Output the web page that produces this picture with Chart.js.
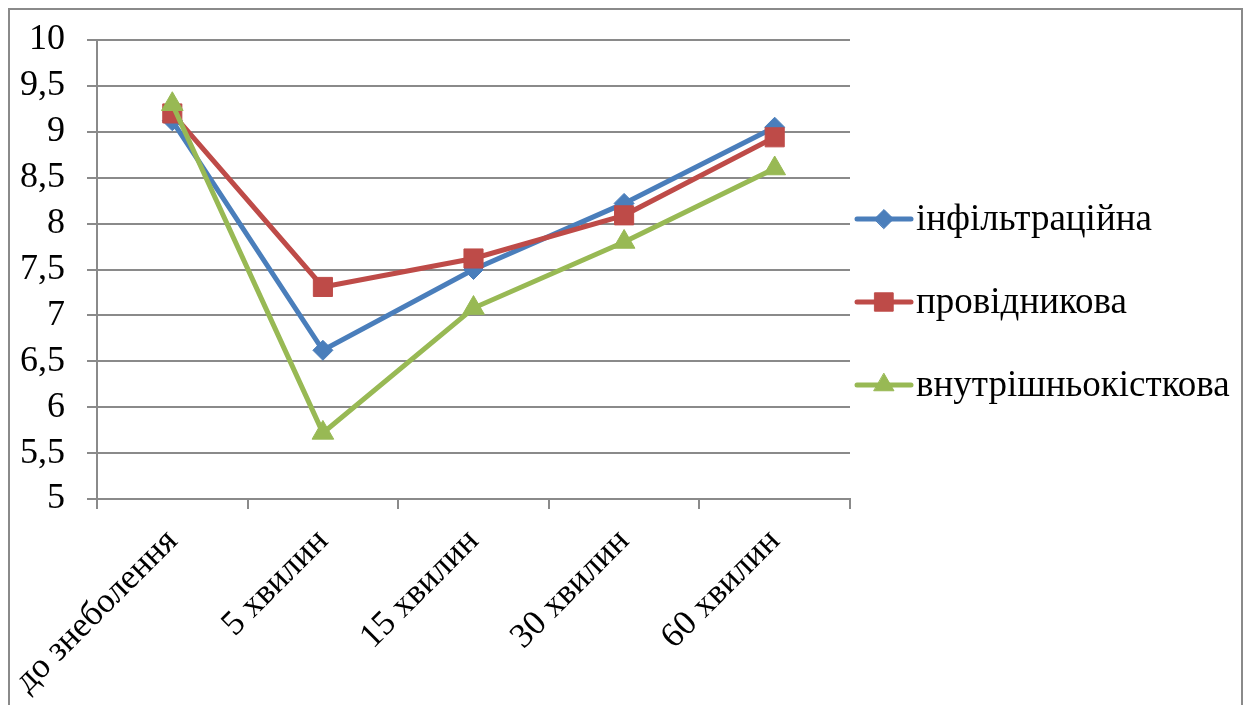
<!DOCTYPE html>
<html>
<head>
<meta charset="utf-8">
<script src="https://cdn.jsdelivr.net/npm/chart.js@4.4.0/dist/chart.umd.min.js"></script>
<style>
  html, body { margin: 0; padding: 0; background: #fff; }
  #wrap { width: 1251px; height: 705px; }
</style>
</head>
<body>
<div id="wrap"><canvas id="chart" width="1251" height="705"></canvas></div>
<script>
// categories and series values
var categories = ['до знеболення', '5 хвилин', '15 хвилин', '30 хвилин', '60 хвилин'];
var infiltration = [9.12, 6.62, 7.5, 8.22, 9.05];
var conduction = [9.2, 7.31, 7.62, 8.09, 8.94];
var intraosseous = [9.3, 5.72, 7.08, 7.8, 8.6];
var seriesNames = ['інфільтраційна', 'провідникова', 'внутрішньокісткова'];
var yTicks = [5, 5.5, 6, 6.5, 7, 7.5, 8, 8.5, 9, 9.5, 10];

var colors = ['#4a7ebb', '#be4b48', '#98b954'];
var markers = ['rectRot', 'rect', 'triangle'];
var markerSize = [10, 13.5, 12.5];
var legendMarkerSize = [9.5, 13, 11.5];
var font = '"Liberation Serif", "Times New Roman", serif';
var gridColor = '#8a8a8a';

function makeSet(i, values) {
  return {
    label: seriesNames[i],
    data: values,
    borderColor: colors[i],
    backgroundColor: colors[i],
    borderWidth: 5,
    pointStyle: markers[i],
    pointRadius: markerSize[i],
    pointBorderWidth: 1,
    pointHoverRadius: markerSize[i],
    tension: 0,
    order: 2 - i
  };
}

// outer frame of the chart
var framePlugin = {
  id: 'frame',
  beforeDraw: function(chart) {
    var ctx = chart.ctx;
    ctx.save();
    ctx.fillStyle = '#fff';
    ctx.fillRect(0, 0, chart.width, chart.height);
    ctx.strokeStyle = gridColor;
    ctx.lineWidth = 2;
    ctx.strokeRect(9, 9, 1233, 720);
    ctx.restore();
  }
};

// legend on the right: line sample with marker, then the series name
var sideLegend = {
  id: 'sideLegend',
  afterDraw: function(chart) {
    var ctx = chart.ctx;
    var x0 = 857, x1 = 911, rows = [219, 302, 385];
    ctx.save();
    chart.data.datasets.forEach(function(ds, i) {
      var y = rows[i];
      ctx.strokeStyle = ds.borderColor;
      ctx.lineWidth = 5;
      ctx.lineCap = 'round';
      ctx.beginPath();
      ctx.moveTo(x0, y);
      ctx.lineTo(x1, y);
      ctx.stroke();
      ctx.fillStyle = ds.backgroundColor;
      ctx.strokeStyle = ds.borderColor;
      ctx.lineWidth = 1;
      Chart.helpers.drawPoint(ctx, { pointStyle: ds.pointStyle, rotation: 0, borderWidth: 1, radius: legendMarkerSize[i] }, (x0 + x1) / 2, y);
      ctx.fillStyle = '#000';
      ctx.font = '37px ' + font;
      ctx.textBaseline = 'middle';
      ctx.textAlign = 'left';
      ctx.fillText(ds.label, 916, y + 1);
    });
    ctx.restore();
  }
};

new Chart(document.getElementById('chart'), {
  type: 'line',
  data: {
    labels: categories,
    datasets: [makeSet(0, infiltration), makeSet(1, conduction), makeSet(2, intraosseous)]
  },
  plugins: [framePlugin, sideLegend],
  options: {
    responsive: false,
    animation: false,
    events: [],
    layout: { padding: { top: 39, right: 401, left: 0, bottom: 0 } },
    plugins: { legend: { display: false }, tooltip: { enabled: false } },
    scales: {
      x: {
        offset: true,
        grid: { offset: true, drawOnChartArea: false, drawTicks: true, tickLength: 10, color: gridColor, lineWidth: 2 },
        border: { color: gridColor, width: 2 },
        ticks: {
          minRotation: 45, maxRotation: 45, padding: 12, autoSkip: false,
          color: '#000', font: { family: font, size: 35 }
        },
        afterFit: function(s) { s.height = 206; }
      },
      y: {
        min: 5, max: 10,
        afterBuildTicks: function(s) { s.ticks = yTicks.map(function(v) { return { value: v }; }); },
        grid: { color: gridColor, lineWidth: 2, tickLength: 10 },
        border: { color: gridColor, width: 2 },
        ticks: {
          padding: 22, autoSkip: false, color: '#000', font: { family: font, size: 36, lineHeight: 1 },
          callback: function(v) { return String(v).replace('.', ','); }
        },
        afterFit: function(s) { s.width = 93; }
      }
    }
  }
});
</script>
</body>
</html>
